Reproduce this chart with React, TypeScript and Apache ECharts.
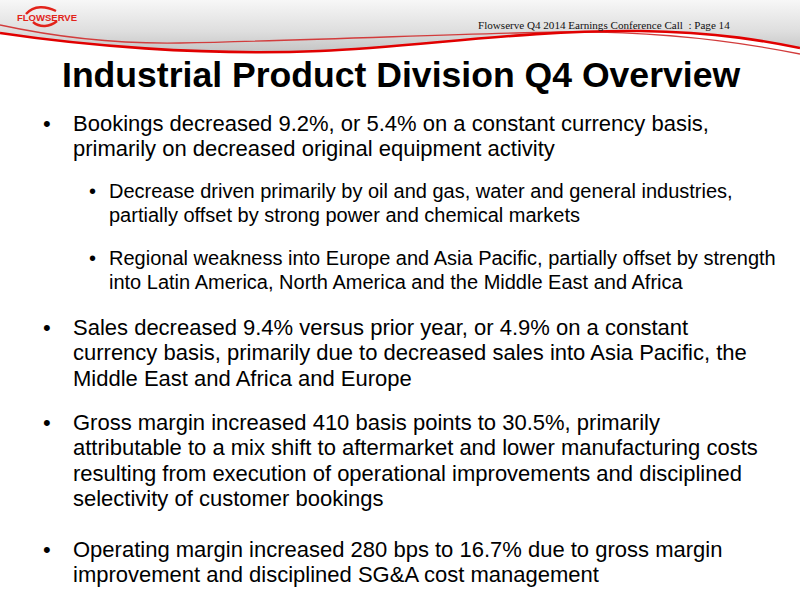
import { useEffect, useRef } from "react";
import * as echarts from "echarts";

const headerNote = "Flowserve Q4 2014 Earnings Conference Call  : Page 14";
const logoText = "FLOWSERVE";
const title = "Industrial Product Division Q4 Overview";

// each entry: level (0 main, 1 sub), wrapped lines, centre y of first line
const bulletLevels = [0, 1, 1, 0, 0, 0];
const bulletTops = [123, 191, 258, 327, 422, 549];
const bulletLines = [
  ["Bookings decreased 9.2%, or 5.4% on a constant currency basis,", "primarily on decreased original equipment activity"],
  ["Decrease driven primarily by oil and gas, water and general industries,", "partially offset by strong power and chemical markets"],
  ["Regional weakness into Europe and Asia Pacific, partially offset by strength", "into Latin America, North America and the Middle East and Africa"],
  ["Sales decreased 9.4% versus prior year, or 4.9% on a constant", "currency basis, primarily due to decreased sales into Asia Pacific, the", "Middle East and Africa and Europe"],
  ["Gross margin increased 410 basis points to 30.5%, primarily", "attributable to a mix shift to aftermarket and lower manufacturing costs", "resulting from execution of operational improvements and disciplined", "selectivity of customer bookings"],
  ["Operating margin increased 280 bps to 16.7% due to gross margin", "improvement and disciplined SG&A cost management"],
];

const bandPath = "M0,0 L800,0 L800,48 C770,42 720,32 640,31 C520,30 420,47 320,51 C200,56 80,45 0,33 Z";
const thickPath = "M0,33 C80,45 200,56 320,51 C420,47 520,30 640,31 C720,32 770,42 800,48";
const thinPath = "M0,25 C60,38 120,44 180,43 C320,40 480,33 560,32 C640,31 720,38 800,54";

echarts.graphic.registerShape("band", echarts.graphic.extendPath(bandPath, {}));
echarts.graphic.registerShape("thickLine", echarts.graphic.extendPath(thickPath, {}));
echarts.graphic.registerShape("thinLine", echarts.graphic.extendPath(thinPath, {}));

const sans = '"Liberation Sans", Arial, sans-serif';

export default function App() {
  const elRef = useRef<HTMLDivElement>(null);

  useEffect(() => {
    document.body.style.margin = "0";
    if (!elRef.current) return;
    const chart = echarts.init(elRef.current, null, { renderer: "svg" });

    const body: any[] = [];
    bulletLines.forEach((lines, i) => {
      const sub = bulletLevels[i] === 1;
      const size = sub ? 20 : 22;
      const gap = sub ? 23.5 : 25.5;
      const dotX = sub ? 89 : 43;
      const textX = sub ? 109 : 73;
      body.push({
        type: "text",
        style: { text: "•", x: dotX, y: bulletTops[i], font: `${size}px ${sans}`, fill: "#000", verticalAlign: "middle" },
      });
      lines.forEach((ln, j) => {
        body.push({
          type: "text",
          style: { text: ln, x: textX, y: bulletTops[i] + j * gap, font: `${size}px ${sans}`, fill: "#000", verticalAlign: "middle" },
        });
      });
    });

    chart.setOption({
      animation: false,
      backgroundColor: "#fff",
      graphic: [
        {
          type: "band",
          x: 0, y: 0,
          style: {
            fill: new echarts.graphic.LinearGradient(0, 0, 0, 1, [
              { offset: 0, color: "#f7f7f7" },
              { offset: 0.6, color: "#dedede" },
              { offset: 1, color: "#c4c4c4" },
            ]),
          },
        },
        { type: "thinLine", x: 0, y: 0, style: { fill: null, stroke: "#d23c3c", lineWidth: 1.3 } },
        { type: "thickLine", x: 0, y: 0, style: { fill: null, stroke: "#e10000", lineWidth: 2.6 } },
        // logo swooshes
        { type: "bezierCurve", shape: { x1: 26, y1: 14, cpx1: 34, cpy1: 5, x2: 56, y2: 11, cpx2: 46, cpy2: 6 }, style: { stroke: "#e2231a", lineWidth: 2.4, fill: null } },
        { type: "bezierCurve", shape: { x1: 33, y1: 22, cpx1: 40, cpy1: 28, x2: 57, y2: 21, cpx2: 50, cpy2: 27 }, style: { stroke: "#e2231a", lineWidth: 2.4, fill: null } },
        {
          type: "text",
          style: { text: logoText, x: 17, y: 17.5, font: `bold 9.5px ${sans}`, fill: "#e2231a", verticalAlign: "middle" },
        },
        {
          type: "text",
          style: { text: headerNote, x: 478, y: 25, font: '11.1px "Liberation Serif", "Times New Roman", serif', fill: "#111", verticalAlign: "middle" },
        },
        {
          type: "text",
          style: { text: title, x: 62, y: 75, font: `bold 35.6px ${sans}`, fill: "#000", verticalAlign: "middle" },
        },
        ...body,
      ],
    });
    return () => chart.dispose();
  }, []);

  return <div ref={elRef} style={{ width: 800, height: 600 }} />;
}
